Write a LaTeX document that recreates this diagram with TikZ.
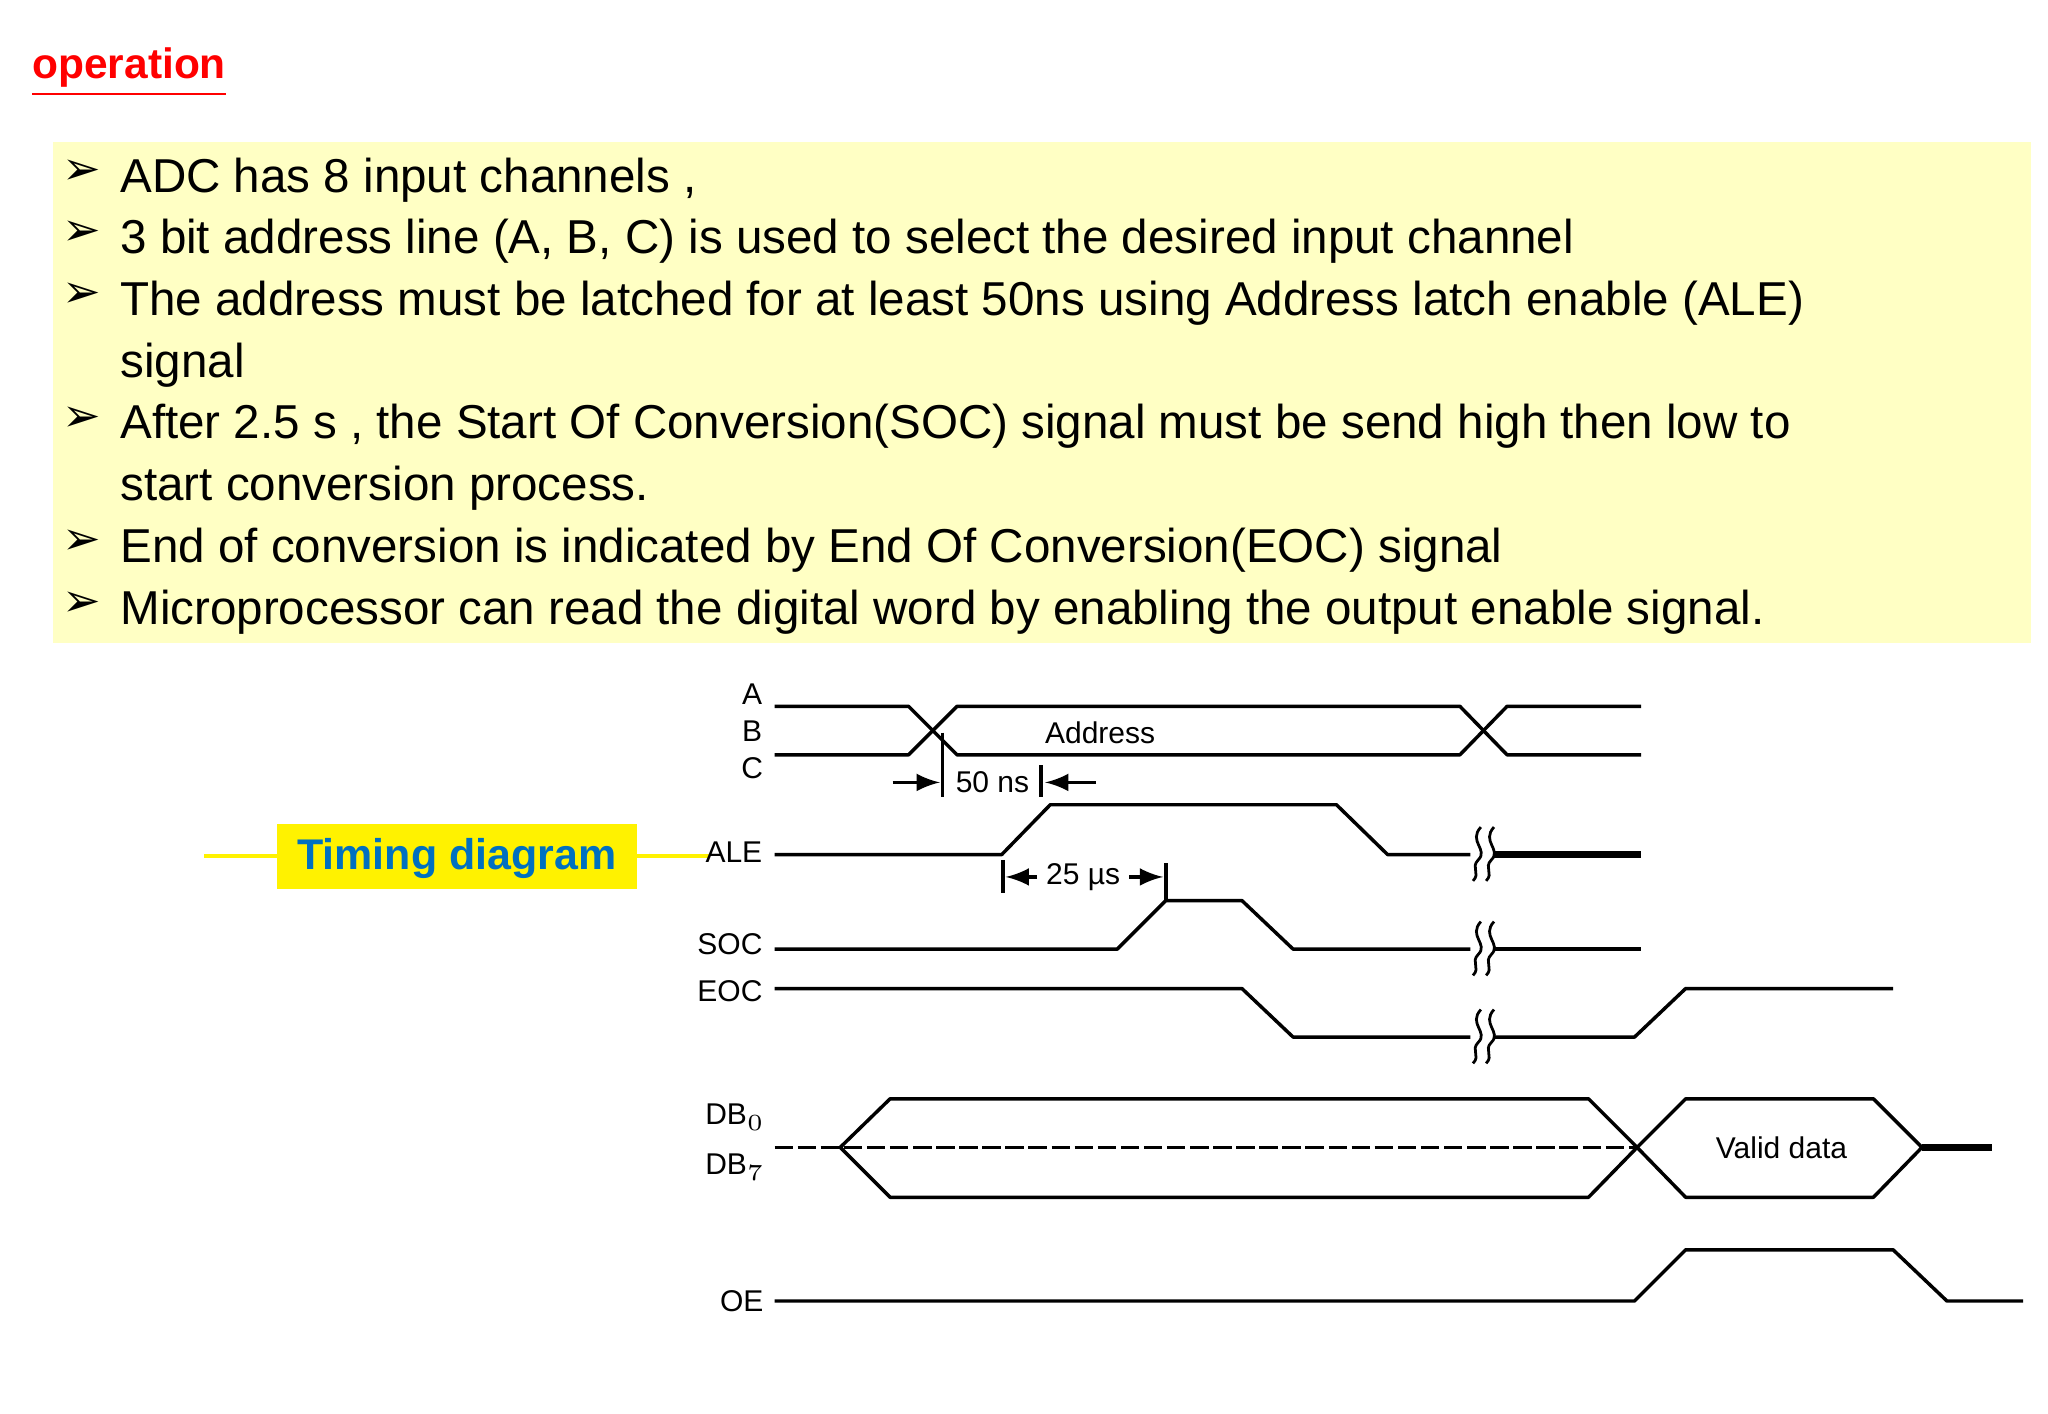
\documentclass[tikz,border=0pt]{standalone}
\usepackage{fontspec}
\setmainfont{Liberation Sans}
\newfontfamily\dejavu{DejaVu Sans}
\begin{document}
\begin{tikzpicture}[x=0.01cm,y=-0.01cm,
  sig/.style={line width=0.75pt,line join=round},
  lbl/.style={font=\fontsize{6.5}{7}\selectfont,inner sep=1pt},
  bul/.style={anchor=west,font=\fontsize{10.3}{12}\selectfont,inner sep=0pt},
  arr/.style={font=\dejavu\fontsize{10}{12}\selectfont,inner sep=0pt}]
\useasboundingbox (0,0) rectangle (1560,1077);
\node[anchor=west,inner sep=0pt,text=red,font=\bfseries\fontsize{9.2}{11}\selectfont] (title) at (24,55) {\underline{operation}};
\fill[fill={rgb,255:red,255;green,255;blue,196}] (40,108) rectangle (1547,490);
\foreach \y/\t [count=\i] in {137/{ADC has 8 input channels ,},184/{3 bit address line (A, B, C) is used to select the desired input channel},231/{The address must be latched for at least 50ns using Address latch enable (ALE)},325/{After 2.5 s , the Start Of Conversion(SOC) signal must be send high then low to},419/{End of conversion is indicated by End Of Conversion(EOC) signal},466/{Microprocessor can read the digital word by enabling the output enable signal.}}{
  \node[arr] (a\i) at (62,\y-6) {➢};
  \node[bul] (b\i) at (91,\y) {\t};}
\node[bul] (c1) at (91,278) {signal};
\node[bul] (c2) at (91,372) {start conversion process.};
\node[fill=yellow,minimum width=274\pgflinewidth,inner sep=0pt] (tdbox) at (348,652) {};
\fill[yellow] (211,628) rectangle (485,677);
\node[text={rgb,255:red,0;green,112;blue,192},font=\bfseries\fontsize{9.3}{11}\selectfont] (td) at (348,654) {Timing diagram};
% labels
\node[lbl] (lA) at (573,529) {A};
\node[lbl] (lB) at (573,557) {B};
\node[lbl] (lC) at (573,585) {C};
\node[lbl] (lALE) at (559,649) {ALE};
\node[lbl] (lSOC) at (556,719) {SOC};
\node[lbl] (lEOC) at (556,755) {EOC};
\node[lbl] (lDB0) at (560,851) {DB$_0$};
\node[lbl] (lDB7) at (560,889) {DB$_7$};
\node[lbl] (lOE) at (565,991) {OE};
% address
\draw[sig] (590,538) -- (692,538) -- (729,575) -- (1112,575) -- (1148,538) -- (1250,538);
\draw[sig] (590,575) -- (692,575) -- (729,538) -- (1112,538) -- (1148,575) -- (1250,575);
\node[lbl] (addr) at (838,558) {Address};
\draw[sig] (718,558) -- (718,607);
\draw[sig] (793,583) -- (793,607);
\draw[sig,-latex] (680,596) -- (716,596);
\draw[sig,-latex] (835,596) -- (796,596);
\node[lbl] (ns) at (756,596) {50 ns};
% ALE
\draw[sig] (590,651) -- (763,651) -- (800,613) -- (1018,613) -- (1057,651) -- (1120,651);
\draw[line width=1.6pt] (1138,651) -- (1250,651);
\draw[sig] (764,655) -- (764,680);
\draw[sig] (888,686) -- (888,657);
\draw[sig,-latex] (790,668) -- (766,668);
\draw[sig,-latex] (860,668) -- (886,668);
\node[lbl] (us) at (825,668) {25 µs};
% SOC
\draw[sig] (590,723) -- (851,723) -- (888,686) -- (946,686) -- (985,723) -- (1120,723);
\draw[sig] (1138,723) -- (1250,723);
% EOC
\draw[sig] (590,753) -- (946,753) -- (985,790) -- (1120,790);
\draw[sig] (1138,790) -- (1245,790) -- (1284,753) -- (1442,753);
% squiggles
\foreach \y in {651,723,790}{
  \draw[line width=0.6pt] (1128,\y-21) .. controls (1118,\y-10) and (1134,\y-4) .. (1126,\y+4) .. controls (1120,\y+10) and (1128,\y+14) .. (1122,\y+20);
  \draw[line width=0.6pt] (1138,\y-21) .. controls (1128,\y-10) and (1144,\y-4) .. (1136,\y+4) .. controls (1130,\y+10) and (1138,\y+14) .. (1132,\y+20);}
% DB
\draw[sig,dashed,line width=0.5pt,dash pattern=on 4pt off 1pt] (590,874) -- (1247,874);
\draw[sig] (640,874) -- (678,837) -- (1210,837) -- (1247,874) -- (1210,912) -- (678,912) -- cycle;
\draw[sig] (1247,874) -- (1284,837) -- (1427,837) -- (1464,874) -- (1427,912) -- (1284,912) -- cycle;
\node[lbl] (vd) at (1357,874) {Valid data};
\draw[line width=1.4pt] (1464,874) -- (1517,874);
% OE
\draw[sig] (590,991) -- (1245,991) -- (1284,952) -- (1442,952) -- (1483,991) -- (1541,991);
\end{tikzpicture}
\end{document}
